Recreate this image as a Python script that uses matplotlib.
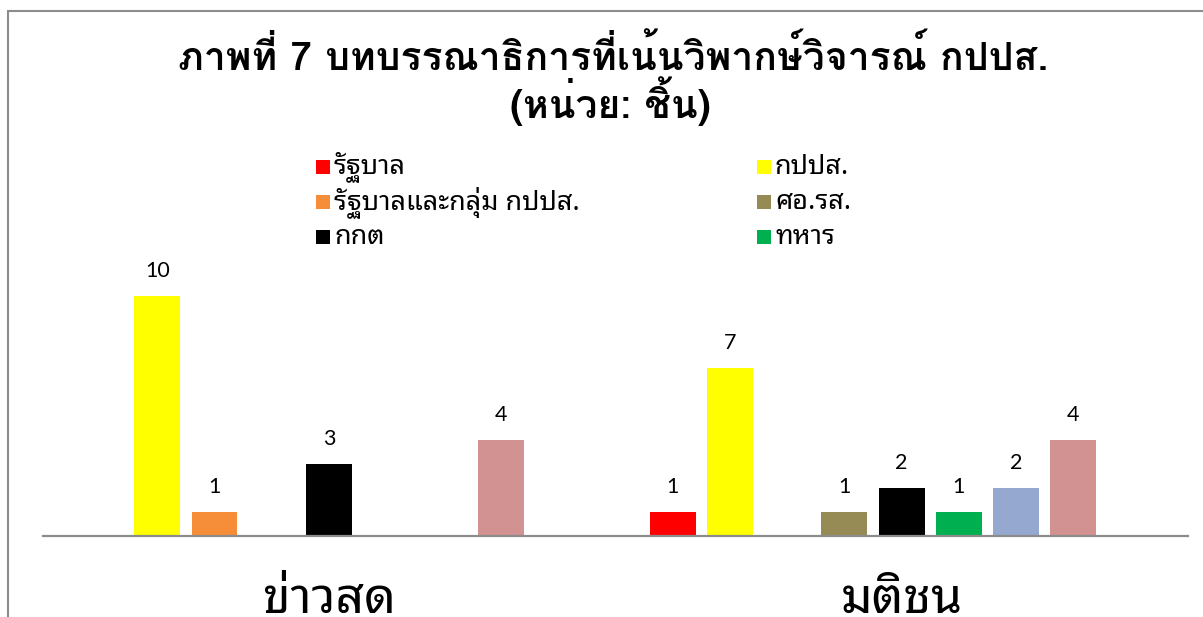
import matplotlib
matplotlib.use("Agg")
import matplotlib.pyplot as plt
from matplotlib.patches import Rectangle
import numpy as np

# ---------------- data ----------------
categories = ["ข่าวสด", "มติชน"]
series_names = ["รัฐบาล", "กปปส.", "รัฐบาลและกลุ่ม กปปส.", "ศอ.รส.", "กกต", "ทหาร",
                "", "", ""]
series_colors = ["#FF0000", "#FFFF00", "#F68D39", "#968B55", "#000000", "#00B050",
                 "#95A9D0", "#D39292", "#C0C0C0"]
values_red = [0, 1]
values_yellow = [10, 7]
values_orange = [1, 0]
values_olive = [0, 1]
values_black = [3, 2]
values_green = [0, 1]
values_blue = [0, 2]
values_pink = [4, 4]
values_ninth = [0, 0]
series_values = [values_red, values_yellow, values_orange, values_olive, values_black,
                 values_green, values_blue, values_pink, values_ninth]
legend_count = 6
title_line1 = "ภาพที่ 7 บทบรรณาธิการที่เน้นวิพากษ์วิจารณ์ กปปส."
title_line2 = "(หน่วย: ชิ้น)"

# ---------------- layout ----------------
W, H = 1203, 617
fig = plt.figure(figsize=(W / 100, H / 100), dpi=100)
fig.patch.set_facecolor("white")

def fx(px):
    return px / W

def fy(py):
    return 1 - py / H

ax_left, ax_right, ax_bottom, ax_top = 42.7, 1188, 536, 176
ax = fig.add_axes([fx(ax_left), fy(ax_bottom), fx(ax_right - ax_left), (ax_bottom - ax_top) / H])
ax.set_xlim(-0.5, 1.5)
ax.set_ylim(0, 15)
for s in ["left", "right", "top"]:
    ax.spines[s].set_visible(False)
ax.spines["bottom"].set_color("#8C8C8C")
ax.spines["bottom"].set_linewidth(1.6)
ax.set_yticks([])
ax.set_xticks([])

n_series = len(series_values)
step = 0.1
width = 0.0803
x = np.arange(len(categories))
for j, (vals, col) in enumerate(zip(series_values, series_colors)):
    offs = (j - (n_series - 1) / 2) * step
    bars = ax.bar(x + offs, vals, width=width, color=col, linewidth=0, zorder=2)
    labels = [str(v) if v > 0 else "" for v in vals]
    ax.bar_label(bars, labels=labels, padding=11, fontsize=15.5, family="Lato",
                 color="#000000")

# border frame of the chart area
fig.patches.append(Rectangle((fx(8), fy(H + 40)), fx(W + 40), (H + 40 - 11) / H,
                             transform=fig.transFigure, fill=False,
                             edgecolor="#8C8C8C", linewidth=1.5, zorder=0))

renderer = fig.canvas.get_renderer()

def fit_text(xp, yp, s, target_w, family, weight="normal", ha="center", va="center", start=20):
    t = fig.text(fx(xp), fy(yp), s, family=family, fontweight=weight, ha=ha, va=va,
                 fontsize=start)
    for _ in range(3):
        w = t.get_window_extent(renderer).width
        t.set_fontsize(t.get_fontsize() * target_w / w)
    return t

# title
thai_bold = ["Loma", "DejaVu Sans"]
t1 = fit_text(613, 57, title_line1, 870, thai_bold, weight="bold")
fig.text(fx(610), fy(101), title_line2, family=thai_bold, fontweight="bold",
         ha="center", va="center", fontsize=t1.get_fontsize())

# category labels
cat_font = ["Noto Sans Thai Looped", "DejaVu Sans"]
c1 = fit_text(328.5, 613, categories[0], 133, cat_font, ha="center", va="baseline")
for i, c in enumerate(categories):
    xc = ax_left + (i + 0.5) * (ax_right - ax_left) / len(categories)
    if i == 0:
        c1.set_x(fx(xc))
    else:
        fig.text(fx(xc), fy(613), c, family=cat_font, ha="center", va="baseline",
                 fontsize=c1.get_fontsize())

# legend (two columns, row-major order)
leg_font = ["Noto Sans Thai Looped", "DejaVu Sans"]
col_x = [316, 757]
row_y = [167, 202, 237]
probe = fig.text(0, 0, series_names[2], family=leg_font, fontsize=14)
for _ in range(3):
    wpx = probe.get_window_extent(renderer).width
    probe.set_fontsize(probe.get_fontsize() * 246 / wpx)
leg_fs = probe.get_fontsize()
probe.remove()
for k in range(legend_count):
    r, c = divmod(k, 2)
    mx, my = col_x[c], row_y[r]
    fig.patches.append(Rectangle((fx(mx), fy(my + 7)), fx(14), 14 / H,
                                 transform=fig.transFigure, facecolor=series_colors[k],
                                 edgecolor="none"))
    fig.text(fx(mx + 18), fy(my), series_names[k], family=leg_font, fontsize=leg_fs,
             ha="left", va="center")

fig.savefig("out.png", dpi=100, facecolor="white")
